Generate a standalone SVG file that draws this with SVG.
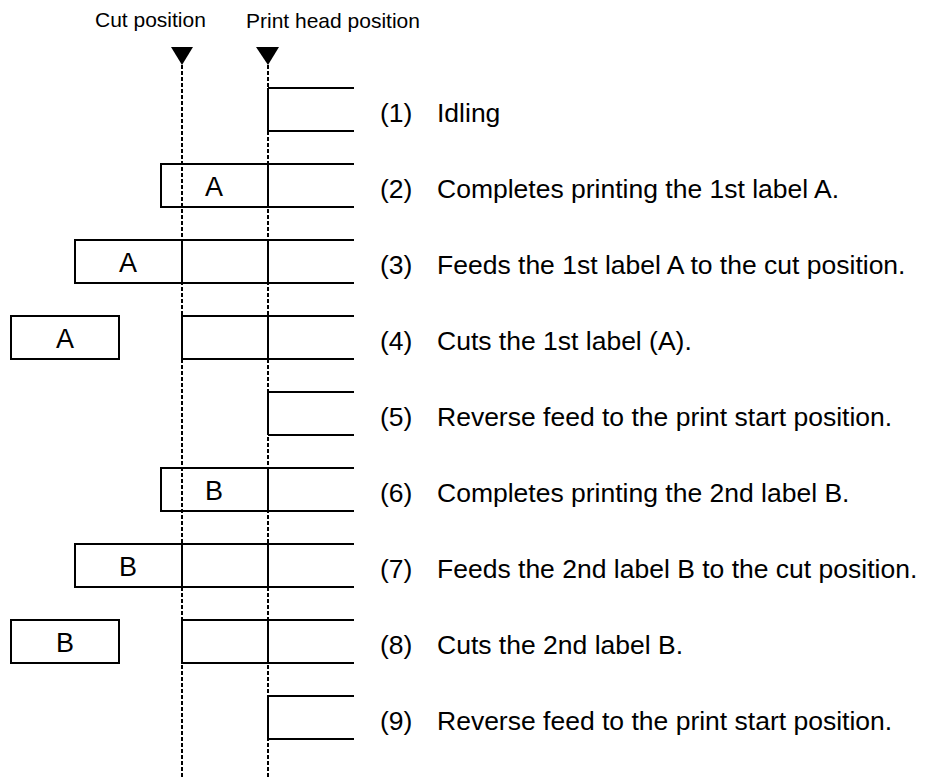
<svg xmlns="http://www.w3.org/2000/svg" width="928" height="778" viewBox="0 0 928 778">
<style>
.s{stroke:#000;stroke-width:2;fill:none}
.d{stroke:#000;stroke-width:2;stroke-dasharray:4 2;fill:none}
.t{font-family:"Liberation Sans",Arial,sans-serif;font-size:26.5px;fill:#000}
.h{font-family:"Liberation Sans",Arial,sans-serif;font-size:21px;fill:#000}
.l{font-family:"Liberation Sans",Arial,sans-serif;font-size:27px;fill:#000;text-anchor:middle}
</style>
<defs>
<g id="tail"><path class="s" d="M268,0 H354 M268,43 H354 M268,0 V43"/></g>
</defs>
<g id="headers">
<text class="h" x="95" y="27">Cut position</text>
<text class="h" x="246" y="28">Print head position</text>
<polygon points="171,47 193,47 182,65" fill="#000"/>
<polygon points="256,47 279,47 268,65" fill="#000"/>
</g>
<g id="connectors">
<line class="d" x1="182" y1="65" x2="182" y2="778"/>
<line class="d" x1="268" y1="65" x2="268" y2="778"/>
</g>
<g id="step1" transform="translate(0,88)">
<use href="#tail"/>
<text class="t" x="380" y="34">(1)</text><text class="t" x="437" y="34">Idling</text>
</g>
<g id="step2" transform="translate(0,164)">
<use href="#tail"/>
<rect class="s" x="161" y="0" width="107" height="43"/>
<text class="l" x="214" y="32">A</text>
<text class="t" x="380" y="34">(2)</text><text class="t" x="437" y="34">Completes printing the 1st label A.</text>
</g>
<g id="step3" transform="translate(0,240)">
<use href="#tail"/>
<rect class="s" x="75" y="0" width="193" height="43"/>
<line class="s" x1="182" y1="0" x2="182" y2="43"/>
<text class="l" x="128" y="32">A</text>
<text class="t" x="380" y="34">(3)</text><text class="t" x="437" y="34">Feeds the 1st label A to the cut position.</text>
</g>
<g id="step4" transform="translate(0,316)">
<use href="#tail"/>
<rect class="s" x="11" y="0" width="108" height="43"/>
<rect class="s" x="182" y="0" width="86" height="43"/>
<text class="l" x="65" y="32">A</text>
<text class="t" x="380" y="34">(4)</text><text class="t" x="437" y="34">Cuts the 1st label (A).</text>
</g>
<g id="step5" transform="translate(0,392)">
<use href="#tail"/>
<text class="t" x="380" y="34">(5)</text><text class="t" x="437" y="34">Reverse feed to the print start position.</text>
</g>
<g id="step6" transform="translate(0,468)">
<use href="#tail"/>
<rect class="s" x="161" y="0" width="107" height="43"/>
<text class="l" x="214" y="32">B</text>
<text class="t" x="380" y="34">(6)</text><text class="t" x="437" y="34">Completes printing the 2nd label B.</text>
</g>
<g id="step7" transform="translate(0,544)">
<use href="#tail"/>
<rect class="s" x="75" y="0" width="193" height="43"/>
<line class="s" x1="182" y1="0" x2="182" y2="43"/>
<text class="l" x="128" y="32">B</text>
<text class="t" x="380" y="34">(7)</text><text class="t" x="437" y="34">Feeds the 2nd label B to the cut position.</text>
</g>
<g id="step8" transform="translate(0,620)">
<use href="#tail"/>
<rect class="s" x="11" y="0" width="108" height="43"/>
<rect class="s" x="182" y="0" width="86" height="43"/>
<text class="l" x="65" y="32">B</text>
<text class="t" x="380" y="34">(8)</text><text class="t" x="437" y="34">Cuts the 2nd label B.</text>
</g>
<g id="step9" transform="translate(0,696)">
<use href="#tail"/>
<text class="t" x="380" y="34">(9)</text><text class="t" x="437" y="34">Reverse feed to the print start position.</text>
</g>
</svg>
